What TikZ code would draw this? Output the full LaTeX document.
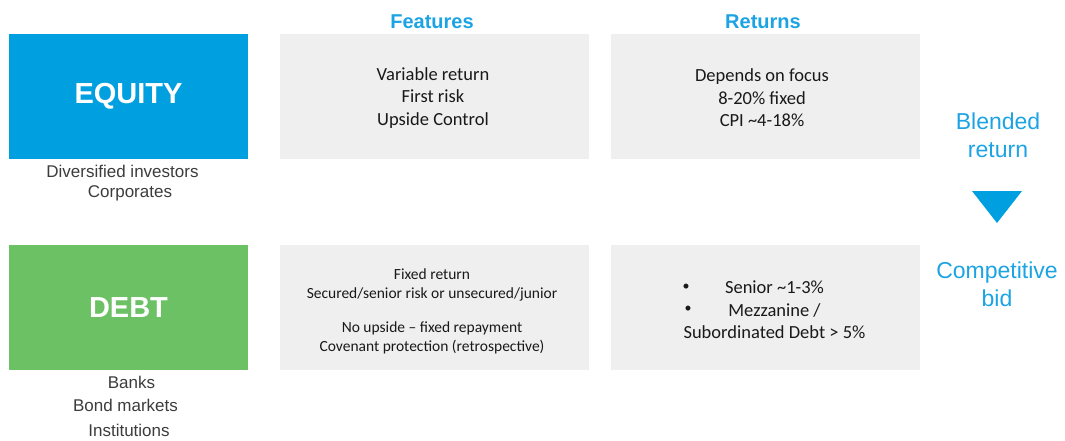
\documentclass[tikz,border=0pt]{standalone}
\usepackage{fontspec}
\setmainfont{Carlito}
\newfontfamily\arialfont{Liberation Sans}
\usetikzlibrary{positioning}
\definecolor{eqblue}{HTML}{009FE0}
\definecolor{dbgreen}{HTML}{6BC163}
\definecolor{headblue}{HTML}{1BA3E3}
\definecolor{panelgrey}{HTML}{EFEFEF}
\definecolor{labelgrey}{HTML}{3C3C3C}

\begin{document}
\begin{tikzpicture}[x = 1pt, y = -1pt, asset/.style = {minimum width=239pt, minimum height=124pt, inner sep=0pt, text=white, font=\arialfont\fontsize{29}{34}\selectfont\bfseries}, panel/.style = {fill=panelgrey, minimum width=309pt, minimum height=124pt, inner sep=0pt}, big/.style = {align=center, text=black!90, font=\fontsize{18.5}{22.5}\selectfont}, small/.style = {align=center, text=black!90, font=\fontsize{15.5}{19}\selectfont}, header/.style = {text=headblue, font=\arialfont\fontsize{20}{24}\selectfont\bfseries}, holders/.style = {text=labelgrey, inner sep=0pt, font=\arialfont\fontsize{17}{20}\selectfont}, blend/.style = {text=headblue, align=center, font=\arialfont\fontsize{23}{28}\selectfont}]

    \useasboundingbox (0,0) rectangle (1065,441);

    % headers
    \node[header] (feathead) at (432,22) {Features};
    \node[header] (rethead) at (763,22) {Returns};

    % equity row
    \node[asset, fill=eqblue] (equity) at (128.5,96.5) {EQUITY};
    \node[panel] (eqfeat) at (434.5,96.5) {};
    \node[big] (eqfeattext) at (433,98) {Variable return\\First risk\\Upside Control};
    \node[panel] (eqret) at (765,96.5) {};
    \node[big] (eqrettext) at (762,98) {Depends on focus\\8-20\% fixed\\CPI \textasciitilde4-18\%};
    \node[holders] (divinv) at (122.5,171) {Diversified investors};
    \node[holders] (corp) at (130,193) {Corporates};

    % debt row
    \node[asset, fill=dbgreen, minimum height=125pt] (debt) at (128.5,307.5) {DEBT};
    \node[panel, minimum height=125pt] (dbfeat) at (434.5,307.5) {};
    \node[small] (dbfeattext) at (432,311) {Fixed return\\Secured/senior risk or unsecured/junior\\[15pt]No upside -- fixed repayment\\Covenant protection (retrospective)};
    \node[panel, minimum height=125pt] (dbret) at (765,307.5) {};
    \node[big] (dbrettext) at (774.5,310) {Senior \textasciitilde1-3\%\\Mezzanine /\\Subordinated Debt > 5\%};
    \node[text=black!90, font=\fontsize{14}{16}\selectfont] (bulleta) at (686,287) {\textbullet};
    \node[text=black!90, font=\fontsize{14}{16}\selectfont] (bulletb) at (688,309) {\textbullet};
    \node[holders] (banks) at (131.5,382) {Banks};
    \node[holders] (bonds) at (125.5,405) {Bond markets};
    \node[holders] (inst) at (129,430) {Institutions};

    % blended return
    \node[blend] (blended) at (998,135) {Blended\\return};
    \fill[eqblue] (972,191) -- (1022,191) -- (997,223) -- cycle;
    \node[blend] (compbid) at (997,284) {Competitive\\bid};

\end{tikzpicture}
\end{document}
